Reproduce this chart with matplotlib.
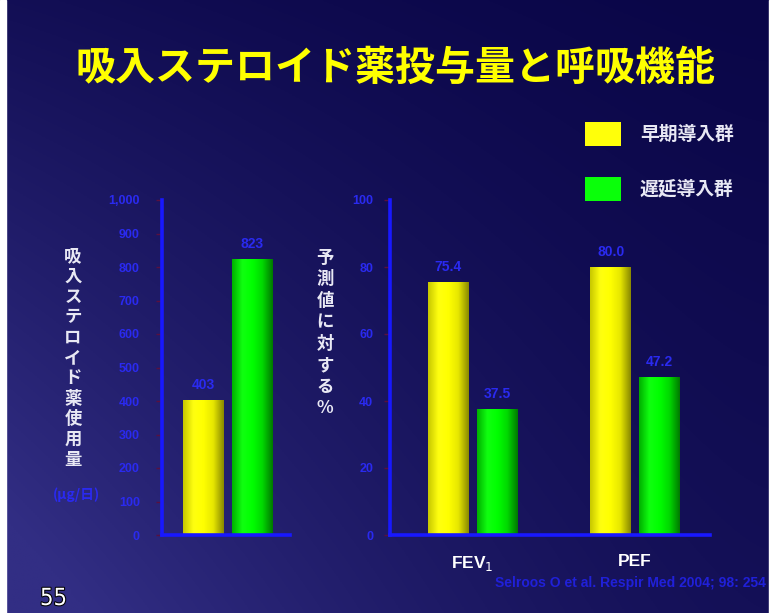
import numpy as np
import matplotlib
matplotlib.use("Agg")
import matplotlib.pyplot as plt
from matplotlib.patches import Rectangle
import matplotlib.patheffects as pe

plt.rcParams['font.family'] = ['Noto Sans CJK JP', 'DejaVu Sans']

# ---- data ----
groups = ["早期導入群", "遅延導入群"]
dose_values = [403, 823]                 # inhaled steroid dose (µg/day)
dose_ticks = [0, 100, 200, 300, 400, 500, 600, 700, 800, 900, 1000]
dose_ticklabels = ["0", "100", "200", "300", "400", "500", "600", "700", "800", "900", "1,000"]

lung_categories = ["FEV$_1$", "PEF"]
lung_early = [75.4, 80.0]                # % predicted
lung_delayed = [37.5, 47.2]
lung_ticks = [0, 20, 40, 60, 80, 100]
lung_ticklabels = ["0", "20", "40", "60", "80", "100"]

title = "吸入ステロイド薬投与量と呼吸機能"
ylabel_left = "吸入ステロイド薬使用量"
unit_left = "(μg/日)"
ylabel_right = "予測値に対する%"
source = "Selroos O et al. Respir Med 2004; 98: 254"
page_no = "55"

W, H = 773, 613
fig = plt.figure(figsize=(W / 100, H / 100), dpi=100)

# ---- background ----
bg = fig.add_axes([0, 0, 1, 1], zorder=-10)
yy, xx = np.mgrid[0:1:300j, 0:1:400j]
dark = np.array([10, 6, 72]) / 255
light = np.array([50, 46, 132]) / 255
f = np.clip(0.75 * (1 - xx) ** 1.5 * (0.3 + 0.9 * yy) + 0.25 * yy, 0, 1)
img = dark[None, None, :] + (light - dark)[None, None, :] * f[..., None]
bg.imshow(img, extent=[0, 1, 0, 1], aspect='auto', origin='upper')
bg.add_patch(Rectangle((0, 0), 6 / W, 1, color='white', transform=bg.transAxes))
bg.add_patch(Rectangle((1 - 4 / W, 0), 4 / W, 1, color='white', transform=bg.transAxes))
bg.set_axis_off()

blue = "#2a2af0"
axis_blue = "#1818ff"
tick_red = "#5a1040"

yellow_cmap = matplotlib.colors.LinearSegmentedColormap.from_list(
    "yel", ["#c8c800", "#ffff10", "#ffff00", "#e6e600", "#8a8a00"])
green_cmap = matplotlib.colors.LinearSegmentedColormap.from_list(
    "grn", ["#00b000", "#10ff10", "#00ff00", "#00d800", "#007a00"])
grad = np.linspace(0, 1, 64)[None, :]


def shade_bars(ax, bars, cmap):
    for b in bars:
        x0, y0 = b.get_x(), b.get_y()
        w, h = b.get_width(), b.get_height()
        im = ax.imshow(grad, cmap=cmap, extent=[x0, x0 + w, y0, y0 + h],
                       aspect='auto', zorder=2, interpolation='bicubic')
        im.set_clip_path(b)
        b.set_facecolor('none')


def style_axes(ax):
    ax.set_facecolor('none')
    for s in ['top', 'right']:
        ax.spines[s].set_visible(False)
    for s in ['left', 'bottom']:
        ax.spines[s].set_color(axis_blue)
        ax.spines[s].set_linewidth(2.6)
    ax.tick_params(axis='y', colors=tick_red, labelcolor=blue, length=4,
                   width=1, direction='out', labelsize=9)
    for t in ax.get_yticklabels():
        t.set_fontweight('bold')
        t.set_family(['Liberation Sans', 'DejaVu Sans'])


# ---- left panel: steroid dose ----
axL = fig.add_axes([162 / W, (H - 535) / H, 128 / W, 335 / H])
xL = np.arange(len(groups))
barsL = axL.bar(xL, dose_values, width=0.82, color=['#ffff00', '#00ff00'],
                edgecolor='none', zorder=2)
shade_bars(axL, [barsL[0]], yellow_cmap)
shade_bars(axL, [barsL[1]], green_cmap)
axL.set_xlim(-0.837, 1.776)
axL.set_ylim(0, 1000)
axL.set_yticks(dose_ticks)
axL.set_yticklabels(dose_ticklabels)
axL.set_xticks([])
style_axes(axL)
axL.tick_params(axis='y', pad=12)
for b, v in zip(barsL, dose_values):
    axL.annotate(f"{v}", (b.get_x() + b.get_width() / 2, v), xytext=(0, 6),
                 textcoords='offset points', ha='center', va='bottom',
                 color=blue, fontsize=10, fontweight='bold',
                 family=['Liberation Sans', 'DejaVu Sans'])

# ---- right panel: lung function ----
axR = fig.add_axes([390 / W, (H - 535) / H, 320 / W, 335 / H])
xR = np.arange(len(lung_categories))
off, bw = 0.15, 0.25
barsE = axR.bar(xR - off, lung_early, width=bw, color='#ffff00', edgecolor='none', zorder=2)
barsD = axR.bar(xR + off, lung_delayed, width=bw, color='#00ff00', edgecolor='none', zorder=2)
shade_bars(axR, barsE, yellow_cmap)
shade_bars(axR, barsD, green_cmap)
axR.set_xlim(-0.508, 1.46)
axR.set_ylim(0, 100)
axR.set_yticks(lung_ticks)
axR.set_yticklabels(lung_ticklabels)
axR.set_xticks(xR)
axR.set_xticklabels(lung_categories)
style_axes(axR)
axR.tick_params(axis='y', pad=8)
axR.tick_params(axis='x', length=0, pad=14, labelsize=12.5, labelcolor='white')
for t in axR.get_xticklabels():
    t.set_fontweight('bold')
    t.set_family(['Liberation Sans', 'DejaVu Sans'])
for bars, vals in [(barsE, lung_early), (barsD, lung_delayed)]:
    for b, v in zip(bars, vals):
        axR.annotate(f"{v:.1f}", (b.get_x() + b.get_width() / 2, v), xytext=(0, 6),
                     textcoords='offset points', ha='center', va='bottom',
                     color=blue, fontsize=10, fontweight='bold',
                     family=['Liberation Sans', 'DejaVu Sans'])

# ---- texts ----
fig.text(395 / W, 1 - 68 / H, title, ha='center', va='center', color='#ffff00',
         fontsize=28.8, fontweight='bold')

fig.text(73 / W, 1 - 358 / H, "\n".join(ylabel_left), ha='center', va='center',
         color='#e8e8f4', fontsize=12.5, fontweight='bold', linespacing=1.17)
fig.text(76 / W, 1 - 495 / H, unit_left, ha='center', va='center', color=blue,
         fontsize=10, fontweight='bold')
fig.text(325 / W, 1 - 333 / H, "\n".join(ylabel_right), ha='center', va='center',
         color='#e8e8f4', fontsize=12.5, fontweight='bold', linespacing=1.25)

# legend
leg_cols = [('#ffff00', yellow_cmap), ('#00ff00', green_cmap)]
leg_y = [134, 189]
for (c, cm), yc, name in zip(leg_cols, leg_y, groups):
    r = Rectangle((585 / W, 1 - (yc + 12) / H), 36 / W, 24 / H,
                  transform=fig.transFigure, facecolor=cm(0.35), edgecolor='none')
    fig.patches.append(r)
    fig.text(640 / W, 1 - yc / H, name, ha='left', va='center', color='#e8e8f4',
             fontsize=13.5, fontweight='bold')

fig.text(766 / W, 1 - 583 / H, source, ha='right', va='center', color='#2020d8',
         fontsize=10, fontweight='bold', family=['Liberation Sans', 'DejaVu Sans'])

t = fig.text(40 / W, 1 - 598 / H, page_no, ha='left', va='center', color='white',
             fontsize=17, family=['DejaVu Sans'], fontstretch='condensed')
t.set_path_effects([pe.withStroke(linewidth=1.5, foreground='black')])

fig.savefig("out.png", dpi=100)
